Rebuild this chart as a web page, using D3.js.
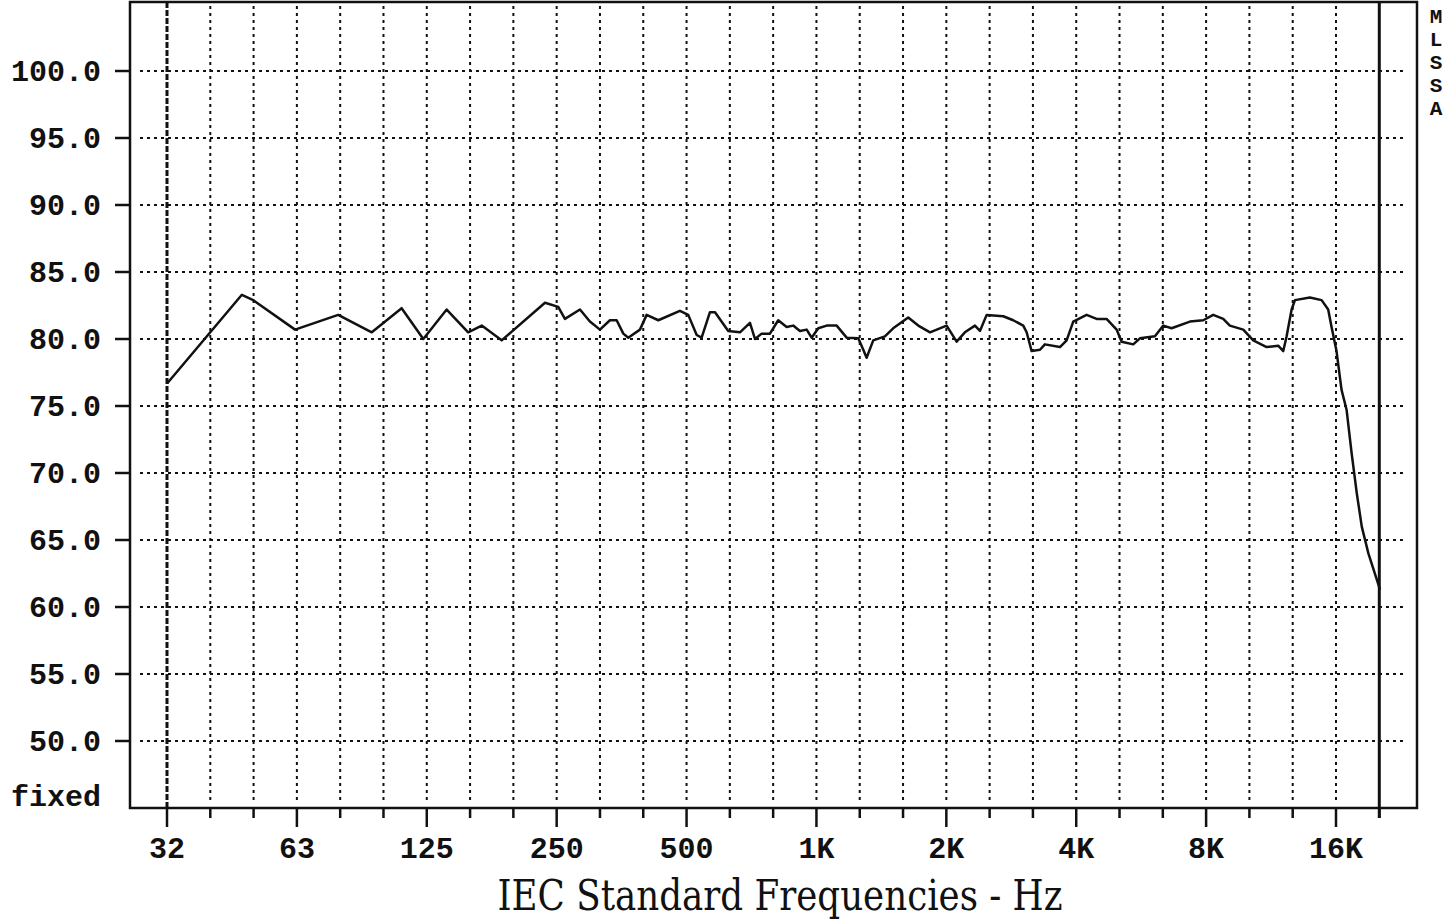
<!DOCTYPE html>
<html>
<head>
<meta charset="utf-8">
<script src="https://cdn.jsdelivr.net/npm/d3@7"></script>
<style>
  body { margin: 0; background: #fff; }
  svg { display: block; }
  .lbl { font-family: "Liberation Mono", "DejaVu Sans Mono", monospace; font-weight: bold; font-size: 30px; fill: #111; }
</style>
</head>
<body>
<svg id="chart" width="1454" height="922"></svg>
<script>
// response curve: frequency (Hz) and level (dB)
const freqs = [31.3, 46.6, 49.5, 61.9, 77.9, 93.2, 109.3, 122.7, 139.0, 155.9, 167.6, 186.4,
  234.9, 252.1, 261.3, 283.1, 298.5, 315.0, 332.2, 344.3, 356.8, 366.3, 389.9, 404.1, 430.0,
  482.6, 504.5, 527.8, 541.9, 566.5, 582.0, 624.6, 664.9, 701.3, 720.4, 746.4, 780.2, 815.5,
  853.1, 883.4, 915.7, 949.1, 974.6, 1010, 1056, 1114, 1175, 1250, 1284, 1307, 1354, 1441,
  1506, 1632, 1722, 1833, 2003, 2113, 2208, 2330, 2393, 2480, 2710, 2858, 3015, 3070, 3153,
  3297, 3384, 3668, 3800, 3937, 4228, 4459, 4703, 4963, 5097, 5422, 5619, 6088, 6366, 6653,
  7338, 7878, 8309, 8766, 9081, 9753, 10288, 11050, 11753, 12075, 12294, 12625, 12853, 13919,
  14816, 15347, 15625, 16044, 16481, 16934, 17388, 17875, 18359, 19018, 20238];
const levels = [76.7, 83.3, 82.9, 80.7, 81.8, 80.5, 82.3, 80.0, 82.2, 80.5, 81.0, 79.9,
  82.7, 82.4, 81.5, 82.2, 81.3, 80.7, 81.4, 81.4, 80.4, 80.1, 80.7, 81.8, 81.4,
  82.1, 81.8, 80.3, 80.1, 82.0, 82.0, 80.6, 80.5, 81.2, 80.0, 80.4, 80.4, 81.4,
  80.9, 81.0, 80.6, 80.7, 80.1, 80.8, 81.0, 81.0, 80.1, 80.05, 79.2, 78.6, 79.9, 80.2,
  80.8, 81.6, 81.0, 80.5, 81.0, 79.8, 80.5, 81.0, 80.6, 81.8, 81.7, 81.4, 81.0, 80.5, 79.1,
  79.2, 79.6, 79.4, 79.9, 81.3, 81.8, 81.5, 81.5, 80.7, 79.8, 79.6, 80.05, 80.2, 81.0, 80.8,
  81.3, 81.4, 81.8, 81.5, 81.0, 80.7, 79.9, 79.4, 79.5, 79.1, 80.2, 82.2, 82.9, 83.1,
  82.9, 82.2, 80.9, 79.1, 76.2, 74.7, 71.5, 68.5, 66.0, 64.0, 61.3];

const yTicks = [50, 55, 60, 65, 70, 75, 80, 85, 90, 95, 100];
const xMajor = [31.25, 62.5, 125, 250, 500, 1000, 2000, 4000, 8000, 16000];
const xMajorLabels = ["32", "63", "125", "250", "500", "1K", "2K", "4K", "8K", "16K"];
const thirdOctaves = d3.range(-15, 13).map(k => 1000 * Math.pow(2, k / 3));
const endFreq = 1000 * Math.pow(2, 13 / 3);

const svg = d3.select("#chart");
const pLeft = 130, pRight = 1417, pTop = 2, pBottom = 808;

const x = d3.scaleLog().base(2).domain([31.25, 16000]).range([167, 1336]);
const y = d3.scaleLinear().domain([45, 105]).range([pBottom, 4]);

// grid
const grid = svg.append("g");
grid.selectAll("line.h").data(yTicks).enter().append("line")
  .attr("x1", pLeft + 10).attr("x2", pRight - 13)
  .attr("y1", d => y(d)).attr("y2", d => y(d))
  .attr("stroke", "#111").attr("stroke-width", 2).attr("stroke-dasharray", "3,4");
grid.selectAll("line.v").data(thirdOctaves.slice(1)).enter().append("line")
  .attr("x1", d => x(d)).attr("x2", d => x(d))
  .attr("y1", pTop + 4).attr("y2", pBottom - 6)
  .attr("stroke", "#111").attr("stroke-width", 2).attr("stroke-dasharray", "3,4");
// heavier line at 32 Hz
grid.append("line")
  .attr("x1", x(31.25)).attr("x2", x(31.25)).attr("y1", pTop).attr("y2", pBottom)
  .attr("stroke", "#111").attr("stroke-width", 3).attr("stroke-dasharray", "6,2");

// frame
svg.append("path")
  .attr("d", `M${pLeft},${pTop}H${pRight}V${pBottom}H${pLeft}Z`)
  .attr("fill", "none").attr("stroke", "#111").attr("stroke-width", 2.5);
svg.append("line")
  .attr("x1", x(endFreq)).attr("x2", x(endFreq)).attr("y1", pTop).attr("y2", pBottom + 10)
  .attr("stroke", "#111").attr("stroke-width", 3);

// y axis ticks + labels
svg.selectAll("line.yt").data(yTicks).enter().append("line")
  .attr("x1", pLeft - 15).attr("x2", pLeft).attr("y1", d => y(d)).attr("y2", d => y(d))
  .attr("stroke", "#111").attr("stroke-width", 2.5);
svg.selectAll("text.yl").data(yTicks).enter().append("text")
  .attr("class", "lbl").attr("x", 101).attr("y", d => y(d) + 10)
  .attr("text-anchor", "end").text(d => d.toFixed(1));
svg.append("text").attr("class", "lbl").attr("x", 101).attr("y", 806)
  .attr("text-anchor", "end").text("fixed");

// x axis ticks + labels
svg.selectAll("line.xt").data(thirdOctaves.concat([endFreq])).enter().append("line")
  .attr("x1", d => x(d)).attr("x2", d => x(d)).attr("y1", pBottom)
  .attr("y2", (d, i) => i % 3 === 0 && i < thirdOctaves.length ? pBottom + 19 : pBottom + 10)
  .attr("stroke", "#111").attr("stroke-width", 2.5);
svg.selectAll("text.xl").data(xMajor).enter().append("text")
  .attr("class", "lbl").attr("x", d => x(d)).attr("y", 858)
  .attr("text-anchor", "middle").text((d, i) => xMajorLabels[i]);

svg.append("text")
  .attr("x", 780).attr("y", 910).attr("text-anchor", "middle")
  .attr("font-family", "'DejaVu Serif Condensed', 'DejaVu Serif', serif")
  .attr("font-size", 42).attr("fill", "#111")
  .attr("textLength", 565).attr("lengthAdjust", "spacingAndGlyphs")
  .text("IEC Standard Frequencies - Hz");

// vertical MLSSA tag
svg.append("text")
  .attr("class", "lbl").attr("x", 1436).attr("y", 6)
  .style("font-size", "21px").style("writing-mode", "vertical-rl")
  .style("text-orientation", "upright")
  .text("MLSSA");

// response curve
const rows = freqs.map((f, i) => ({ f, db: levels[i] }));
svg.append("path").datum(rows)
  .attr("fill", "none").attr("stroke", "#111").attr("stroke-width", 2.5)
  .attr("stroke-linejoin", "round")
  .attr("d", d3.line().x(d => x(d.f)).y(d => y(d.db)));
</script>
</body>
</html>
